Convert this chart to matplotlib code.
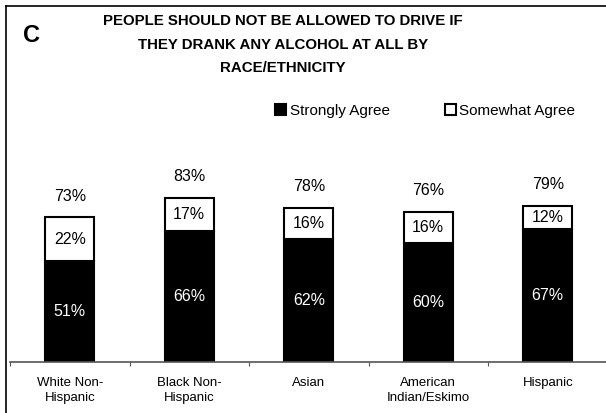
import numpy as np
import matplotlib.pyplot as plt
from matplotlib.patches import Patch
from matplotlib.lines import Line2D

plt.rcParams['font.family'] = ['Liberation Sans', 'DejaVu Sans']

groups = ['White Non-\nHispanic', 'Black Non-\nHispanic', 'Asian',
          'American\nIndian/Eskimo', 'Hispanic']
strongly = [51, 66, 62, 60, 67]
somewhat = [22, 17, 16, 16, 12]
totals = [73, 83, 78, 76, 79]

W, H = 606, 413
fig = plt.figure(figsize=(W / 100, H / 100), dpi=100)
ax = fig.add_axes([10 / W, (H - 362) / H, 597.5 / W, 198 / H])

x = np.arange(len(groups))
bw = 0.413
ax.bar(x, strongly, bw, color='black', edgecolor='black', linewidth=1.5)
ax.bar(x, somewhat, bw, bottom=strongly, color='white', edgecolor='black',
       linewidth=1.5)

for i in range(len(groups)):
    ax.text(x[i], strongly[i] / 2, f'{strongly[i]}%', ha='center', va='center',
            color='white', fontsize=11.5)
    ax.text(x[i], strongly[i] + somewhat[i] / 2, f'{somewhat[i]}%',
            ha='center', va='center', color='black', fontsize=11.5)
    ax.annotate(f'{totals[i]}%', (x[i], totals[i]), xytext=(0, 15),
                textcoords='offset points', ha='center', va='center',
                fontsize=11.5, annotation_clip=False)

ax.set_xlim(-0.5, len(groups) - 0.5)
ax.set_ylim(0, 100)
for s in ['top', 'right', 'left']:
    ax.spines[s].set_visible(False)
ax.spines['bottom'].set_color('#555555')
ax.spines['bottom'].set_linewidth(1.2)
ax.set_yticks([])
ax.set_xticks(np.arange(-0.5, len(groups), 1.0))
ax.set_xticklabels([])
ax.set_xticks(x, minor=True)
ax.set_xticklabels(groups, minor=True, fontsize=9.5, linespacing=1.25)
ax.tick_params(axis='x', which='major', length=3, color='#555555')
ax.tick_params(axis='x', which='minor', length=0, pad=11)

# legend
handles = [Patch(facecolor='black', edgecolor='black', linewidth=1.5),
           Patch(facecolor='white', edgecolor='black', linewidth=1.5)]
fig.legend(handles, ['Strongly Agree', 'Somewhat Agree'], ncol=2,
           loc='center left', bbox_to_anchor=(275 / W, 1 - 111 / H),
           frameon=False, fontsize=11, handlelength=0.75, handleheight=0.75,
           handletextpad=0.2, columnspacing=3.6, borderpad=0,
           borderaxespad=0)

# title
title_lines = ['PEOPLE SHOULD NOT BE ALLOWED TO DRIVE IF',
               'THEY DRANK ANY ALCOHOL AT ALL BY',
               'RACE/ETHNICITY']
for t, yy in zip(title_lines, [21, 45, 68.5]):
    fig.text(283 / W, 1 - yy / H, t, ha='center', va='center',
             fontsize=10.8, fontweight='bold')
fig.text(32 / W, 1 - 36 / H, 'C', ha='center', va='center', fontsize=17,
         fontweight='bold')

# outer frame (left and top edges)
fig.add_artist(Line2D([6 / W, 6 / W], [0, 1 - 6 / H], color='black', lw=1.2,
                      transform=fig.transFigure))
fig.add_artist(Line2D([6 / W, 1], [1 - 6 / H, 1 - 6 / H], color='black',
                      lw=1.2, transform=fig.transFigure))

fig.savefig('out.png', dpi=100)
